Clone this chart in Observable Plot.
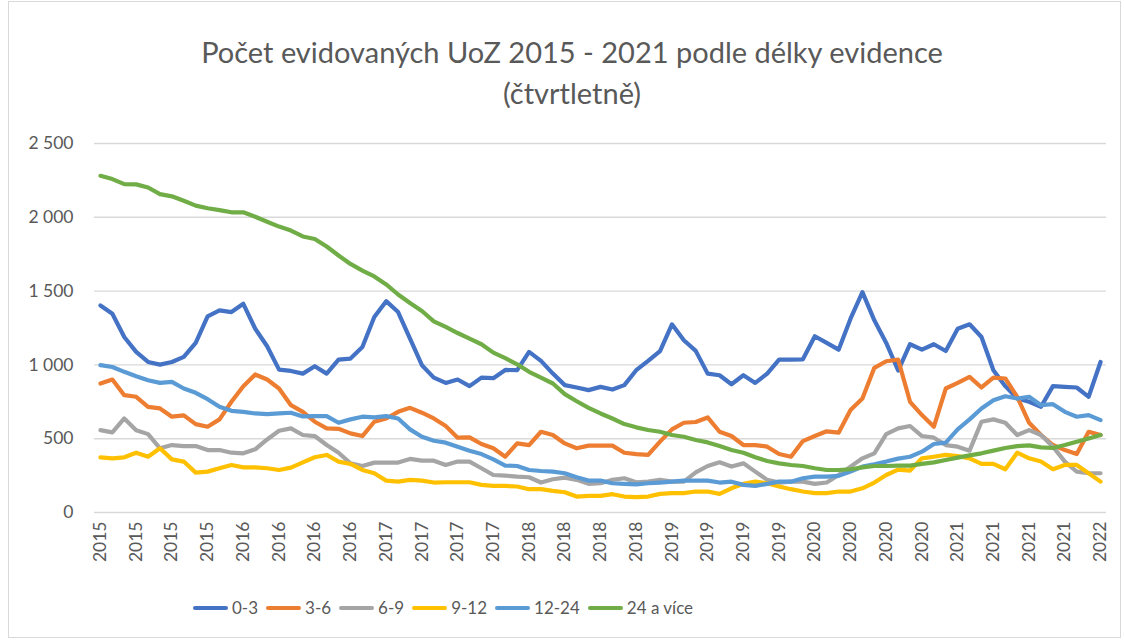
<!DOCTYPE html>
<html>
<head>
<meta charset="utf-8">
<script src="https://cdn.jsdelivr.net/npm/d3@7"></script>
<script src="https://cdn.jsdelivr.net/npm/@observablehq/plot@0.6"></script>
<style>
  html, body { margin: 0; padding: 0; background: #fff; }
  #wrap { position: relative; width: 1124px; height: 641px; background: #fff; font-family: Lato, "Open Sans", sans-serif; color: #595959; overflow: hidden; }
  #frame { position: absolute; left: 8px; top: 1px; width: 1113px; height: 637px; border: 1px solid #d9d9d9; box-sizing: border-box; }
  #chart { position: absolute; left: 0; top: 0; }
  .title { position: absolute; left: 10px; width: 1124px; text-align: center; font-size: 29px; line-height: 34px; font-weight: 400; color: #595959; white-space: nowrap; }
  #legend { position: absolute; left: 193px; top: 598px; display: flex; align-items: center; gap: 8px; font-size: 17px; line-height: 20px; color: #595959; }
  .item { display: flex; align-items: center; }
  .sw { width: 35px; height: 4.5px; border-radius: 2.25px; margin-right: 4px; }
</style>
</head>
<body>
<div id="wrap">
  <div id="frame"></div>
  <div id="chart"></div>
  <div class="title" id="t1" style="top:35px"></div>
  <div class="title" id="t2" style="top:76px"></div>
  <div id="legend"></div>
</div>
<script>
const titleLine1 = "Počet evidovaných UoZ 2015 - 2021 podle délky evidence";
const titleLine2 = "(čtvrtletně)";

const seriesNames = ["0-3", "3-6", "6-9", "9-12", "12-24", "24 a více"];
const seriesColors = ["#4472C4", "#ED7D31", "#A5A5A5", "#FFC000", "#5B9BD5", "#70AD47"];

// x tick labels (every third month, Jan 2015 .. Jan 2022)
const tickYears = [2015,2015,2015,2015,2016,2016,2016,2016,2017,2017,2017,2017,2018,2018,2018,2018,
                   2019,2019,2019,2019,2020,2020,2020,2020,2021,2021,2021,2021,2022];
const yTicks = [0, 500, 1000, 1500, 2000, 2500];

// monthly values, 85 points each
const s0_3 = [1403,1347,1189,1088,1020,1002,1020,1054,1149,1329,
  1369,1358,1414,1245,1126,968,959,941,991,941,
  1036,1043,1121,1324,1432,1358,1178,998,914,878,
  901,856,914,910,966,964,1088,1027,941,863,
  847,829,851,833,863,964,1027,1094,1275,1167,
  1095,941,930,869,930,878,941,1036,1036,1038,
  1194,1149,1103,1313,1493,1302,1149,962,1140,1103,
  1140,1094,1245,1275,1189,964,856,772,750,716,
  856,851,847,784,1020];
const s3_6 = [874,901,795,784,716,705,649,658,599,581,
  631,750,856,935,901,840,727,682,615,570,
  567,536,518,615,637,682,709,676,637,586,
  507,509,464,435,378,468,457,547,525,468,
  435,453,453,453,405,396,390,480,563,608,
  613,644,547,518,457,457,446,396,378,484,
  518,550,541,694,773,980,1025,1036,750,660,
  581,840,878,919,847,914,908,784,608,525,
  457,423,396,547,525];
const s6_9 = [558,543,637,558,531,435,457,450,450,423,
  423,405,401,428,495,554,570,525,518,457,
  405,333,315,338,338,338,363,351,351,322,
  345,345,300,254,250,243,239,203,225,236,
  221,194,198,221,232,205,209,221,209,209,
  272,315,340,311,333,277,221,203,209,209,
  194,203,254,311,367,401,531,570,586,518,
  507,457,446,419,615,631,608,525,558,525,
  446,345,277,266,266];
const s9_12 = [374,367,374,405,378,435,360,345,270,277,
  300,322,306,306,300,288,304,340,374,390,
  345,329,288,266,216,209,221,216,203,205,
  205,205,187,180,180,176,158,158,146,137,
  108,113,113,124,108,104,108,126,131,131,
  142,142,126,164,194,209,198,176,158,142,
  131,131,142,142,164,203,254,290,284,367,
  378,390,383,367,329,329,293,405,367,345,
  293,322,322,266,209];
const s12_24 = [998,986,953,923,896,878,885,840,811,768,
  716,689,682,671,667,671,676,651,653,653,
  608,631,649,644,653,637,563,513,486,473,
  446,419,396,360,318,315,288,281,277,266,
  239,216,216,198,194,191,198,203,209,216,
  216,216,203,209,187,180,194,209,209,232,
  243,243,248,277,311,327,345,365,378,412,
  464,473,563,631,705,761,788,772,784,727,
  734,682,649,660,626];
const s24 = [2281,2259,2225,2223,2202,2157,2142,2112,2079,2061,
  2049,2034,2034,2004,1970,1937,1910,1870,1853,1802,
  1741,1684,1639,1599,1545,1477,1419,1365,1295,1257,
  1216,1178,1140,1083,1046,1004,953,914,874,802,
  754,709,671,637,599,577,559,547,525,513,
  491,475,450,423,405,374,349,333,322,315,
  300,288,288,293,306,315,315,318,318,329,
  340,356,372,387,401,419,437,450,455,441,
  437,457,480,502,525];

const allSeries = [s0_3, s3_6, s6_9, s9_12, s12_24, s24];
const monthIndex = d3.range(s0_3.length);

const rows = [];
allSeries.forEach((vals, k) => vals.forEach((v, i) => rows.push({i, v, s: seriesNames[k]})));

const fmt = d3.formatLocale({decimal: ",", thousands: "\u00a0", grouping: [3], currency: ["", ""]}).format(",");

const chart = Plot.plot({
  width: 1124,
  height: 641,
  marginLeft: 94,
  marginRight: 18,
  marginTop: 143,
  marginBottom: 129,
  style: {fontFamily: "Lato, 'Open Sans', sans-serif", fontSize: "17px", color: "#595959", background: "transparent"},
  x: {type: "point", domain: monthIndex, padding: 0.5},
  y: {domain: [0, 2500]},
  color: {domain: seriesNames, range: seriesColors},
  marks: [
    Plot.gridY(yTicks, {stroke: "#d9d9d9", strokeOpacity: 1, strokeWidth: 1.4}),
    Plot.axisY(yTicks, {tickSize: 0, tickPadding: 21, tickFormat: fmt, label: null, fontSize: 17.5}),
    Plot.axisX(d3.range(0, s0_3.length, 3), {tickSize: 0, tickPadding: 9, tickRotate: -90, tickFormat: d => String(tickYears[d / 3]), label: null, fontSize: 17.5}),
    Plot.line(rows, {x: "i", y: "v", z: "s", stroke: "s", strokeWidth: 4.2, strokeLinejoin: "round", strokeLinecap: "round"})
  ]
});
document.getElementById("chart").appendChild(chart);

document.getElementById("t1").textContent = titleLine1;
document.getElementById("t2").textContent = titleLine2;

const legend = document.getElementById("legend");
seriesNames.forEach((name, k) => {
  const item = document.createElement("div");
  item.className = "item";
  const sw = document.createElement("div");
  sw.className = "sw";
  sw.style.background = seriesColors[k];
  const lab = document.createElement("span");
  lab.textContent = name;
  item.appendChild(sw);
  item.appendChild(lab);
  legend.appendChild(item);
});
</script>
</body>
</html>
